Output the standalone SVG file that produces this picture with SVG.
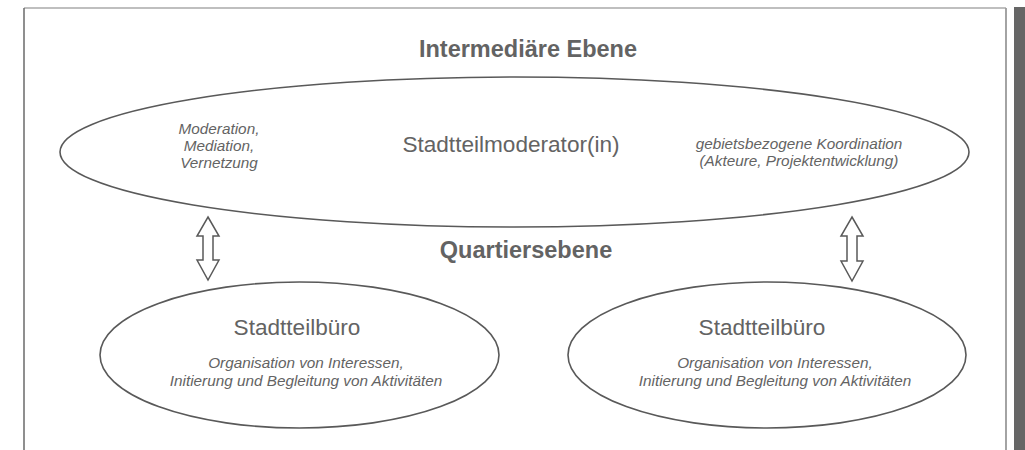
<svg xmlns="http://www.w3.org/2000/svg" width="1025" height="450" viewBox="0 0 1025 450">
<defs>
<style>
.node ellipse{fill:#fff;stroke:#595959;stroke-width:1.6}
.conn path{fill:#fff;stroke:#595959;stroke-width:1.5;stroke-linejoin:miter}
text{font-family:"Liberation Sans",Arial,sans-serif;fill:#636363;text-anchor:middle}
.h{font-weight:bold;font-size:23.5px}
.m{font-size:22.6px}
.i{font-style:italic;font-size:15.3px}
</style>
</defs>
<rect x="0" y="0" width="1025" height="450" fill="#fff"/>
<g id="frame">
<line x1="24" y1="8" x2="1006" y2="8" stroke="#aaaaaa" stroke-width="1.5"/>
<line x1="24" y1="8" x2="24" y2="450" stroke="#6a6a6a" stroke-width="1.5"/>
<line x1="1006" y1="8" x2="1006" y2="450" stroke="#9a9a9a" stroke-width="1.8"/>
<rect x="1014" y="7" width="11" height="443" fill="#666"/>
</g>
<text class="h" x="528" y="57">Intermediäre Ebene</text>
<text class="h" x="526" y="258">Quartiersebene</text>
<g id="moderator" class="node">
<ellipse cx="514.5" cy="152" rx="454.5" ry="75"/>
<text class="m" x="511" y="152">Stadtteilmoderator(in)</text>
<text class="i" x="219" y="134">Moderation,</text>
<text class="i" x="219" y="151">Mediation,</text>
<text class="i" x="219" y="168">Vernetzung</text>
<text class="i" x="799" y="149">gebietsbezogene Koordination</text>
<text class="i" x="799" y="166">(Akteure, Projektentwicklung)</text>
</g>
<g id="buero1" class="node">
<ellipse cx="299.5" cy="355" rx="199.5" ry="73"/>
<text class="m" x="297" y="335">Stadtteilbüro</text>
<text class="i" x="306" y="368">Organisation von Interessen,</text>
<text class="i" x="306" y="386">Initierung und Begleitung von Aktivitäten</text>
</g>
<g id="buero2" class="node">
<ellipse cx="767" cy="355" rx="199" ry="73"/>
<text class="m" x="762" y="335">Stadtteilbüro</text>
<text class="i" x="775" y="368">Organisation von Interessen,</text>
<text class="i" x="775" y="386">Initierung und Begleitung von Aktivitäten</text>
</g>
<g id="connectors" class="conn">
<path d="M208 217 L219 236 L213 236 L213 260 L219 260 L208 280 L197 260 L203 260 L203 236 L197 236 Z"/>
<path d="M852 217 L863 236 L857 236 L857 261 L863 261 L852 281 L841 261 L847 261 L847 236 L841 236 Z"/>
</g>
</svg>
